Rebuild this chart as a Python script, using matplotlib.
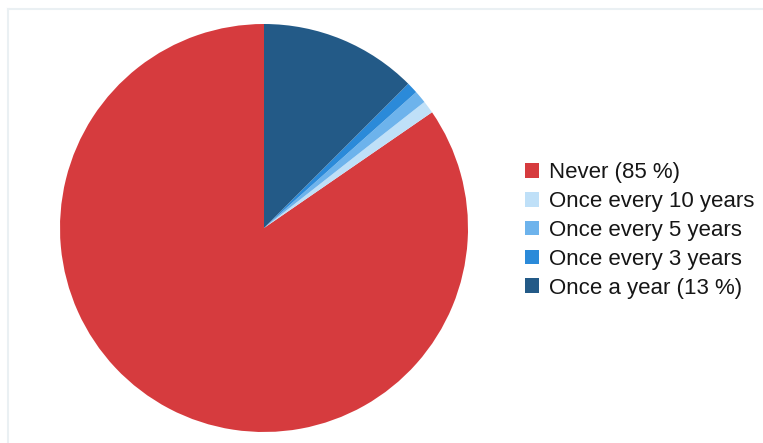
import matplotlib.pyplot as plt
from matplotlib.patches import Patch
from matplotlib.lines import Line2D

labels = ["Never (85 %)", "Once every 10 years", "Once every 5 years",
          "Once every 3 years", "Once a year (13 %)"]
values = [84.6, 1.0, 1.0, 0.9, 12.5]
colors = ["#d63b3e", "#bfe0f8", "#6db3ec", "#2b8ad9", "#235a87"]

plt.rcParams["font.family"] = ["Liberation Sans", "DejaVu Sans"]

fig = plt.figure(figsize=(7.63, 4.43), dpi=100)

# pie centred at (264, 228) px, radius 204 px
cx, cy, r = 264, 228, 204
ax = fig.add_axes([(cx - r) / 763, (443 - cy - r) / 443, 2 * r / 763, 2 * r / 443])
ax.pie(values, colors=colors, startangle=90, counterclock=True,
       wedgeprops=dict(linewidth=0))
ax.set_aspect("equal")
ax.set_xlim(-1, 1)
ax.set_ylim(-1, 1)

handles = [Patch(facecolor=c, edgecolor="none") for c in colors]
fig.legend(handles, labels, loc="center left",
           bbox_to_anchor=(525 / 763, 1 - 230.5 / 443),
           frameon=False, fontsize=16, handlelength=0.63, handleheight=0.63,
           handletextpad=0.45, labelspacing=0.35, borderpad=0,
           borderaxespad=0, labelcolor="#161616")

# faint frame lines on top and left
fig.add_artist(Line2D([8 / 763, 1], [1 - 9 / 443, 1 - 9 / 443],
                      transform=fig.transFigure, color="#eaf0f3", lw=1.5))
fig.add_artist(Line2D([8 / 763, 8 / 763], [0, 1 - 9 / 443],
                      transform=fig.transFigure, color="#eaf0f3", lw=1.5))

plt.savefig("out.png", dpi=100)
